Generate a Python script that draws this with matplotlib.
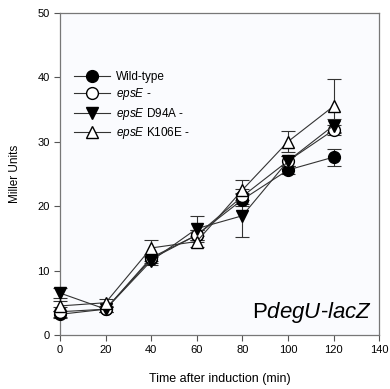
import matplotlib
matplotlib.use('Agg')
import matplotlib.pyplot as plt
from matplotlib.lines import Line2D

plt.rcParams['font.family'] = ['Liberation Sans', 'DejaVu Sans']
plt.rcParams['mathtext.fontset'] = 'custom'
plt.rcParams['mathtext.rm'] = 'Liberation Sans'
plt.rcParams['mathtext.it'] = 'Liberation Sans:italic'

time = [0, 20, 40, 60, 80, 100, 120]
wild = [3.2, 4.0, 11.8, 15.5, 21.0, 25.6, 27.6]
wild_err = [0.5, 0.4, 0.6, 0.8, 1.0, 0.6, 1.3]
epse = [3.6, 4.0, 12.0, 15.5, 21.5, 27.0, 31.8]
epse_err = [0.8, 0.4, 0.6, 0.8, 1.2, 0.8, 0.8]
d94a = [6.5, 4.0, 11.5, 16.5, 18.5, 27.0, 32.5]
d94a_err = [0.8, 0.4, 0.6, 2.0, 3.3, 0.8, 1.0]
k106e = [4.5, 5.0, 13.5, 14.5, 22.5, 30.0, 35.5]
k106e_err = [0.8, 0.5, 1.2, 0.8, 1.5, 1.6, 4.2]

fig = plt.figure(figsize=(3.9, 3.89), dpi=100)
ax = fig.add_axes([0.154, 0.139, 0.818, 0.828])
ax.set_facecolor('#fafbfe')

series = [
    (wild, wild_err, 'o', 'black', 'Wild-type'),
    (epse, epse_err, 'o', 'white', r'$\mathit{epsE}$ -'),
    (d94a, d94a_err, 'v', 'black', r'$\mathit{epsE}$ D94A -'),
    (k106e, k106e_err, '^', 'white', r'$\mathit{epsE}$ K106E -'),
]
handles = []
for vals, err, m, fc, lab in series:
    ax.errorbar(time, vals, yerr=err, marker=m, markersize=8.5, mfc=fc, mec='black',
                color='#333333', lw=0.8, ecolor='#333333', elinewidth=0.8,
                capsize=5, capthick=0.8, clip_on=False, zorder=3)
    handles.append(Line2D([], [], marker=m, markersize=8.5, mfc=fc, mec='black',
                          color='#333333', lw=0.8, label=lab))

ax.set_xlim(0, 140)
ax.set_ylim(0, 50)
ax.set_xticks(range(0, 141, 20))
ax.set_yticks(range(0, 51, 10))
ax.tick_params(direction='out', length=4, width=0.8, labelsize=8, color='#555555')
for s in ax.spines.values():
    s.set_color('#777777')
    s.set_linewidth(0.9)
ax.set_xlabel('Time after induction (min)', fontsize=9, labelpad=13)
ax.set_ylabel('Miller Units', fontsize=8.5, labelpad=12)
ax.text(137, 1.5, r'P$\mathit{degU}$-$\mathit{lacZ}$', fontsize=16, ha='right', va='bottom')
ax.legend(handles=handles, loc='upper left', bbox_to_anchor=(0.03, 0.835), frameon=False,
          fontsize=8.5, handlelength=3.0, labelspacing=0.3, handletextpad=0.5,
          borderaxespad=0)

plt.savefig('out.png', dpi=100)
